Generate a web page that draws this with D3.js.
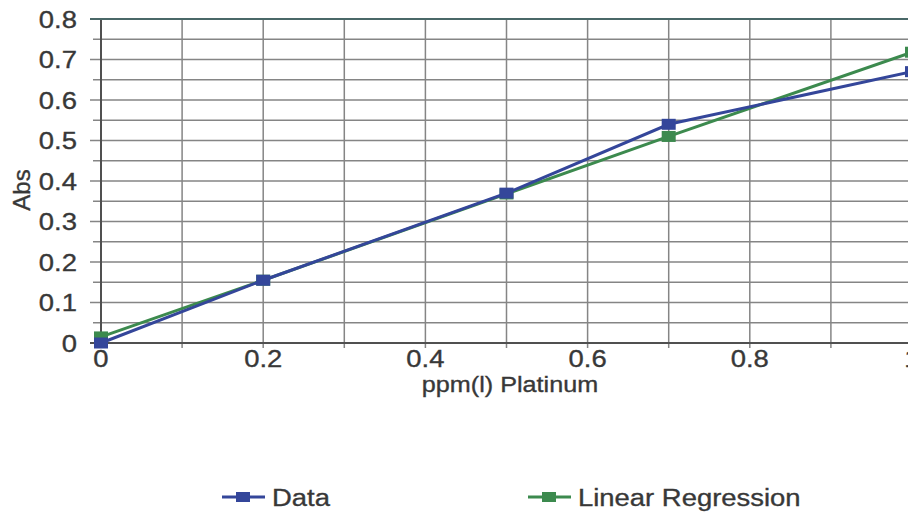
<!DOCTYPE html>
<html>
<head>
<meta charset="utf-8">
<script src="https://cdn.jsdelivr.net/npm/d3@7"></script>
<style>
  html, body { margin: 0; padding: 0; background: #ffffff; }
  svg { display: block; font-family: "Liberation Sans", Arial, sans-serif; }
  .lbl { fill: #383838; stroke: #383838; stroke-width: 0.35; }
</style>
</head>
<body>
<svg id="chart" width="908" height="522"></svg>
<script>
// Platinum calibration: concentration vs absorbance
const concentration = [0, 0.2, 0.5, 0.7, 1.0];
const absData = [0.0, 0.155, 0.37, 0.54, 0.67];
const absRegression = [0.015, 0.155, 0.368, 0.51, 0.718];
const xTicks = [0, 0.2, 0.4, 0.6, 0.8, 1];
const yTicks = [0, 0.1, 0.2, 0.3, 0.4, 0.5, 0.6, 0.7, 0.8];
const seriesNames = ["Data", "Linear Regression"];
const seriesColors = ["#34469a", "#3c8a4e"];

const svg = d3.select("#chart");
const x = d3.scaleLinear().domain([0, 1]).range([101, 912]);
const y = d3.scaleLinear().domain([0, 0.8]).range([343, 19]);

const gridColor = "#858585";
const axisColor = "#505050";
const fontSize = 24.5;
const stretch = 1.12; // wide lettering

// places a horizontally widened label
function label(sel, px, py, anchor, txt, size = fontSize) {
  return sel.append("text")
    .attr("class", "lbl")
    .attr("transform", `translate(${px},${py}) scale(${stretch},1)`)
    .attr("dy", "0.35em")
    .attr("text-anchor", anchor)
    .attr("font-size", size)
    .text(txt);
}

// vertical grid every 0.1
const g = svg.append("g");
g.selectAll("line.vg").data(d3.range(1, 11).map(i => i / 10)).join("line")
  .attr("x1", d => x(d)).attr("x2", d => x(d))
  .attr("y1", y(0.8)).attr("y2", y(0) + 5)
  .attr("stroke", gridColor).attr("stroke-width", 1.5);

// horizontal grid every 0.05, extending left as tick marks
g.selectAll("line.hg").data(d3.range(1, 17).map(i => i * 0.05)).join("line")
  .attr("x1", (d, i) => (i % 2 === 1 ? x(0) - 11 : x(0) - 8)).attr("x2", x(1))
  .attr("y1", d => y(d)).attr("y2", d => y(d))
  .attr("stroke", gridColor).attr("stroke-width", 1.5);

// axes
g.append("line").attr("x1", x(0)).attr("x2", x(0)).attr("y1", y(0.8)).attr("y2", y(0) + 5)
  .attr("stroke", axisColor).attr("stroke-width", 2);
g.append("line").attr("x1", x(0) - 11).attr("x2", x(1)).attr("y1", y(0)).attr("y2", y(0))
  .attr("stroke", axisColor).attr("stroke-width", 2);
g.append("line").attr("x1", x(0) - 11).attr("x2", x(1)).attr("y1", y(0.8)).attr("y2", y(0.8))
  .attr("stroke", "#4a6868").attr("stroke-width", 2);

// tick labels
const yl = svg.append("g");
yTicks.forEach(d => label(yl, 77, y(d), "end", d3.format("")(d)));
const xl = svg.append("g");
xTicks.forEach(d => label(xl, x(d), 358, "middle", d3.format("")(d)));

// axis titles
label(svg, 510, 384, "middle", "ppm(l) Platinum", 22.5);
svg.append("text").attr("class", "lbl")
  .attr("transform", "translate(22,190) rotate(-90)").attr("dy", "0.35em")
  .attr("text-anchor", "middle").attr("font-size", 24)
  .text("Abs");

// series
const series = [absData, absRegression];
const line = d3.line().x(d => x(d[0])).y(d => y(d[1]));
const plot = svg.append("g");
[1, 0].forEach(k => {
  const pts = concentration.map((c, i) => [c, series[k][i]]);
  plot.append("path").datum(pts).attr("d", line)
    .attr("fill", "none").attr("stroke", seriesColors[k]).attr("stroke-width", 3);
  plot.selectAll("rect.m" + k).data(pts).join("rect")
    .attr("x", d => x(d[0]) - 7).attr("y", d => y(d[1]) - 5.5)
    .attr("width", 14).attr("height", 11).attr("fill", seriesColors[k]);
});

// legend
const legendX = [222, 528];
const legend = svg.append("g");
seriesNames.forEach((name, k) => {
  const lx = legendX[k], ly = 497;
  legend.append("line").attr("x1", lx).attr("x2", lx + 43).attr("y1", ly).attr("y2", ly)
    .attr("stroke", seriesColors[k]).attr("stroke-width", 3);
  legend.append("rect").attr("x", lx + 14).attr("y", ly - 5).attr("width", 14).attr("height", 10)
    .attr("fill", seriesColors[k]);
  label(legend, lx + 50, ly, "start", name);
});
</script>
</body>
</html>
